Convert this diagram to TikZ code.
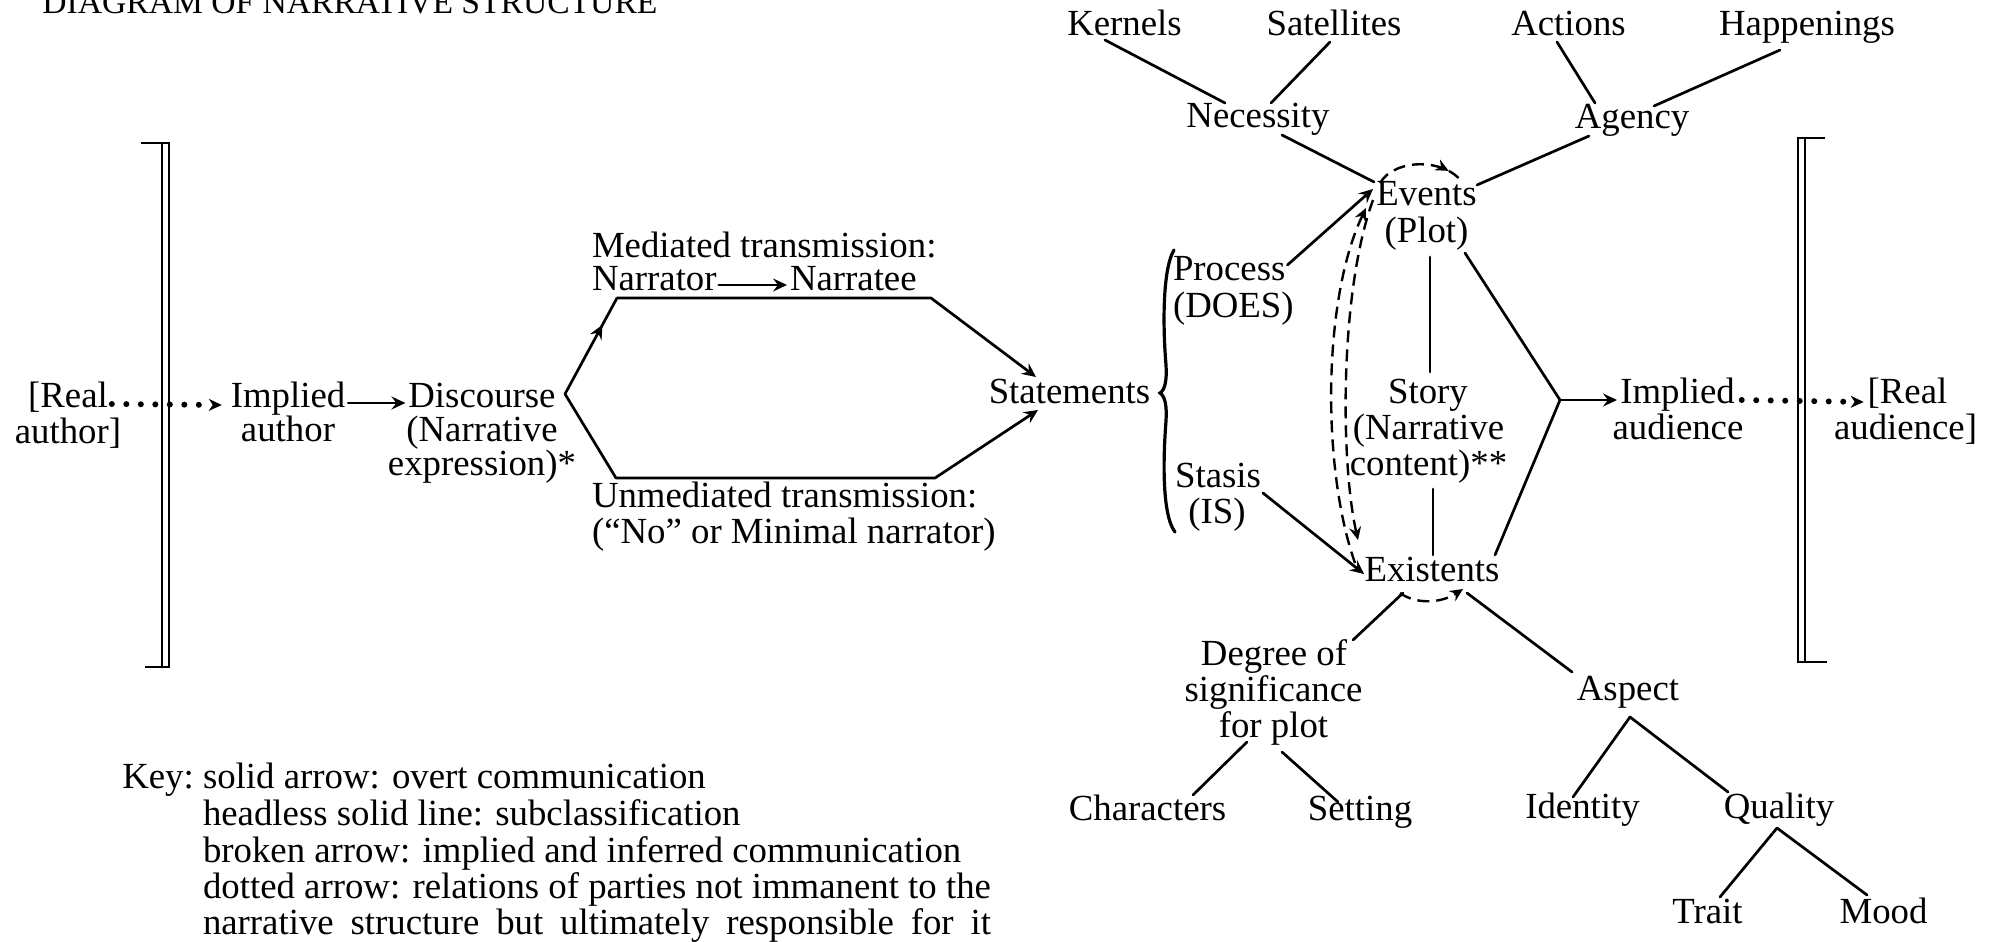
\documentclass[tikz,border=0pt]{standalone}
\usepackage{fontspec}
\setmainfont{Liberation Serif}
\usetikzlibrary{arrows.meta,calc,decorations.markings}
\newcommand\dgfont{\fontsize{18.4}{18.4}\selectfont}
\newcommand\ttlfont{\fontsize{16.8}{16.8}\selectfont}
\newlength\keyw
\begin{document}
\settowidth{\keyw}{\dgfont dotted arrow: relations of parties not immanent to the}%
\begin{tikzpicture}[x=0.5pt,y=-0.5pt,
  lbl/.style={inner sep=0pt, outer sep=0pt, anchor=base, font=\dgfont},
  lblw/.style={lbl, anchor=base west},
  conn/.style={line width=1.35pt, line cap=round, line join=round},
  arr/.style={conn, -{Stealth[length=7pt,width=6.5pt,inset=2.5pt]}},
  midarr/.style={postaction={decorate}, decoration={markings, mark=at position 0.72 with {\arrow{Stealth[length=7pt,width=6.5pt,inset=2.5pt]}}}},
  brk/.style={line width=1.1pt},
  dotarr/.style={line width=3pt, line cap=round, dash pattern=on 0pt off 7.25pt, -{Stealth[length=6.5pt,width=6pt,inset=2pt,line width=0.4pt]}},
  dsh/.style={line width=1.2pt, dash pattern=on 6pt off 3.5pt},
  dsharr/.style={dsh, -{Stealth[length=6.5pt,width=6pt,inset=2.2pt]}},
  dshmid/.style={dsh, postaction={decorate}, decoration={markings, mark=at position 0.8 with {\arrow{Stealth[length=6.5pt,width=6pt,inset=2.2pt]}}}},
]
\useasboundingbox (0,0) rectangle (1993,942);

% title
\node[inner sep=0pt, anchor=base west, font=\ttlfont] (title) at (42,13) {DIAGRAM OF NARRATIVE STRUCTURE};

% brackets
\draw[brk] (141,143) -- (169,143) -- (169,667) -- (145,667);
\draw[brk] (162,143) -- (162,667);
\draw[brk] (1825,138) -- (1798,138) -- (1798,662) -- (1827,662);
\draw[brk] (1805,138) -- (1805,662);

% left part
\node[lbl] (realA1) at (68,407) {[Real};
\node[lbl] (realA2) at (68,443) {author]};
\node[lbl] (implA1) at (288,407) {Implied};
\node[lbl] (implA2) at (288,441) {author};
\node[lbl] (disc1) at (482,407) {Discourse};
\node[lbl] (disc2) at (482,441) {(Narrative};
\node[lbl] (disc3) at (482,475) {expression)*};

\node[lblw] (med) at (592,257) {Mediated transmission:};
\node[lblw] (narrator) at (592,290) {Narrator};
\node[lblw] (narratee) at (790,290) {Narratee};
\node[lblw] (unmed1) at (592,507) {Unmediated transmission:};
\node[lblw] (unmed2) at (592,543) {(“No” or Minimal narrator)};

\node[lbl] (stmt) at (1069.5,403) {Statements};

\draw[dotarr] ($(realA1.base east)+(4,-3)$) -- ($(implA1.base west)+(-9,-2)$);
\draw[arr] ($(implA1.base east)+(3,-4)$) -- ($(disc1.base west)+(-3,-4)$);
\draw[arr] ($(narrator.base east)+(2,-5)$) -- ($(narratee.base west)+(-3,-5)$);

% hexagon
\coordinate (hexL) at (565,394);
\coordinate (hexUL) at (617,298);
\coordinate (hexUR) at (931,298);
\coordinate (hexLL) at (616,478);
\coordinate (hexLR) at (935,478);
\draw[conn, midarr] (hexL) -- (hexUL);
\draw[arr] (hexUL) -- (hexUR) -- ($(stmt.base)+(-33.5,-26)$);
\draw[arr] (hexL) -- (hexLL) -- (hexLR) -- ($(stmt.base)+(-31.5,7)$);

% brace
\draw[line width=1.6pt, line cap=round] (1174,250) .. controls (1162,270) and (1163,330) .. (1166,365)
  .. controls (1167,380) and (1165,390) .. (1160,393)
  .. controls (1165,396) and (1167,406) .. (1166,421)
  .. controls (1163,460) and (1162,515) .. (1175,532);

\node[lblw] (proc1) at (1173,280) {Process};
\node[lblw] (proc2) at (1173,317) {(DOES)};
\node[lbl] (stas1) at (1218,487) {Stasis};
\node[lbl] (stas2) at (1217,523) {(IS)};

% story column
\node[lbl] (events) at (1426.5,205) {Events};
\node[lbl] (plot) at (1426.5,242) {(Plot)};
\node[lbl] (story1) at (1428,403) {Story};
\node[lbl] (story2) at (1428.5,439) {(Narrative};
\node[lbl] (story3) at (1428.5,475) {content)**};
\node[lbl] (exist) at (1432,581) {Existents};

% top
\node[lbl] (kern) at (1124.5,35) {Kernels};
\node[lbl] (sat) at (1334,35) {Satellites};
\node[lbl] (act) at (1568.5,35) {Actions};
\node[lbl] (hap) at (1807,35) {Happenings};
\node[lbl] (nec) at (1258,127) {Necessity};
\node[lbl] (agen) at (1632,128) {Agency};

% right
\node[lbl] (implB1) at (1677.5,403) {Implied};
\node[lbl] (implB2) at (1678,439) {audience};
\node[lbl] (realB1) at (1907.5,403) {[Real};
\node[lbl] (realB2) at (1905.5,439) {audience]};

% bottom
\node[lbl] (deg1) at (1274,665) {Degree of};
\node[lbl] (deg2) at (1273.5,701) {significance};
\node[lbl] (deg3) at (1273.5,737) {for plot};
\node[lbl] (chars) at (1147.5,820) {Characters};
\node[lbl] (sett) at (1360,820) {Setting};
\node[lbl] (asp) at (1628,700) {Aspect};
\node[lbl] (ident) at (1582.5,818) {Identity};
\node[lbl] (qual) at (1779,818) {Quality};
\node[lbl] (trait) at (1707.5,923) {Trait};
\node[lbl] (mood) at (1883.5,923) {Mood};

% subclassification lines
\draw[conn] ($(kern.base)+(-19.5,5)$) -- ($(nec.base)+(-33,-24)$);
\draw[conn] ($(sat.base)+(-4,7)$) -- ($(nec.base)+(13,-24)$);
\draw[conn] ($(act.base)+(-11.5,7)$) -- ($(agen.base)+(-37,-25)$);
\draw[conn] ($(hap.base)+(-27,15)$) -- ($(agen.base)+(22,-22)$);
\draw[conn] ($(nec.base)+(24,8)$) -- ($(events.base)+(-52.5,-23)$);
\draw[conn] ($(agen.base)+(-43,8)$) -- ($(events.base)+(50.5,-20)$);
\draw[arr] ($(proc1.base east)+(2,-15)$) -- ($(events.base)+(-53.5,-16)$);
\draw[arr] ($(stas1.base)+(45,6)$) -- ($(exist.base)+(-68,-7)$);
\draw[conn] ($(plot.base)+(3.5,15)$) -- ($(story1.base)+(2,-31)$);
\draw[conn] ($(story3.base)+(4.5,14)$) -- ($(exist.base)+(1,-26)$);

\coordinate (junc) at (1560,400);
\draw[conn] ($(plot.base)+(38.5,11)$) -- (junc) -- ($(exist.base)+(63,-26)$);
\draw[arr] (junc) -- ($(implB1.base)+(-60.5,-3)$);
\draw[dotarr] ($(implB1.base east)+(7,-3)$) -- ($(realB1.base west)+(-4,-1)$);

\draw[conn] ($(deg1.base)+(79,-25)$) -- ($(exist.base)+(-29,12)$);
\draw[conn] ($(exist.base)+(35,12)$) -- ($(asp.base)+(-56,-28)$);
\draw[conn] ($(chars.base)+(45.5,-25)$) -- ($(deg3.base)+(-26.5,5)$);
\draw[conn] ($(deg3.base)+(8.5,15)$) -- ($(sett.base)+(-22,-18)$);
\draw[conn] ($(ident.base)+(-9.5,-21)$) -- ($(asp.base)+(2,17)$) -- ($(qual.base)+(-51,-26)$);
\draw[conn] ($(trait.base)+(12.5,-26)$) -- ($(qual.base)+(-2,10)$) -- ($(mood.base)+(-16.5,-28)$);

% broken arrows
\draw[dsharr] ($(exist.base)+(-77,-18)$) .. controls (1322,470) and (1322,300) .. ($(events.base)+(-60.5,3)$);
\draw[dsharr] ($(events.base)+(-53.5,-5)$) .. controls (1340,290) and (1340,460) .. ($(exist.base)+(-74,-41)$);
\draw[dshmid] ($(events.base)+(-46.5,-22)$) .. controls (1395,158) and (1445,158) .. ($(events.base)+(36.5,-22)$);
\draw[dsharr] ($(exist.base)+(-32,12)$) .. controls (1415,604) and (1440,604) .. ($(exist.base)+(31,8)$);

% key
\node[lblw] (key1) at (203,788) {\llap{Key:\ }solid arrow: overt communication};
\node[lblw] (key2) at (203,825) {headless solid line: subclassification};
\node[lblw] (key3) at (203,862) {broken arrow: implied and inferred communication};
\node[lblw] (key4) at (203,898) {dotted arrow: relations of parties not immanent to the};
\node[lblw] (key5) at (203,934) {\makebox[\keyw][s]{narrative structure but ultimately responsible for it}};
\end{tikzpicture}
\end{document}
